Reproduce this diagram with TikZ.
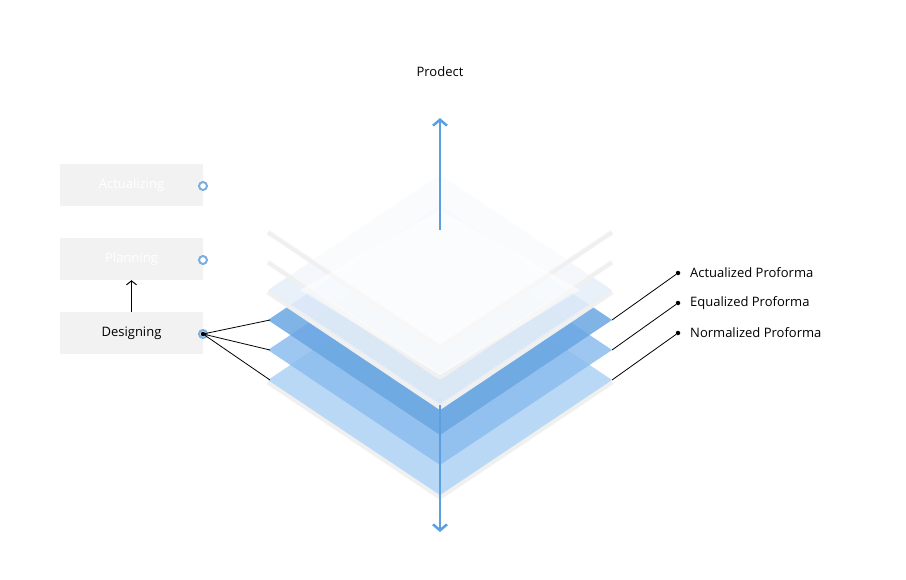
\documentclass[tikz,border=0pt]{standalone}
\usepackage{fontspec}
\setmainfont{Open Sans}
\usetikzlibrary{arrows.meta}
\definecolor{bl}{HTML}{5B9FE0}
\definecolor{c1}{HTML}{B8D8F5}
\definecolor{c2}{HTML}{8CBDEE}
\definecolor{c3}{HTML}{6AA6E2}
\definecolor{c4}{HTML}{E6EFF9}
\definecolor{ring}{HTML}{7BAEDD}
\begin{document}
\begin{tikzpicture}[x=1pt,y=-1pt,font=\fontsize{13}{15}\selectfont,
 box/.style={fill=black!5,minimum width=143pt,minimum height=42pt,inner sep=0pt},
 ring/.style={circle,draw=ring,line width=2pt,fill=white,minimum size=8pt,inner sep=0pt},
 dot/.style={circle,fill=black,minimum size=4.5pt,inner sep=0pt},
 lab/.style={anchor=west,inner sep=0pt}]
\useasboundingbox (0,0) rectangle (906,579);
\newcommand\lay[2]{\fill[#2] (268,#1) -- (440,#1-115) -- (612,#1) -- (440,#1+115) -- cycle;}
\newcommand\shad[1]{\draw[black!6,line width=5pt,line join=round] (268,#1) -- (440,#1+115) -- (612,#1);}
\shad{382}
\lay{380}{c1}
\lay{350}{c2,opacity=.85}
\lay{320}{c3,opacity=.85}
\shad{292}
\lay{290}{c4,opacity=.9}
\shad{262}
\lay{260}{white,opacity=.55}
\shad{232}
\lay{230}{white,opacity=.55}
\fill[white,opacity=.5] (300,290) -- (440,210) -- (580,290) -- (440,375) -- cycle;
\coordinate (t1) at (440,118); \coordinate (t0) at (440,230);
\coordinate (b0) at (440,405); \coordinate (b1) at (440,532);
\draw[bl,line width=2.5pt,-{Straight Barb[length=6pt,width=14pt]}] (t0) -- (t1);
\draw[bl,line width=2.5pt,-{Straight Barb[length=6pt,width=14pt]}] (b0) -- (b1);
\node (p) at (440,72) {Prodect};
\node[box,text=white] (a) at (131.5,185) {Actualizing};
\node[box,text=white] (pl) at (131.5,259) {Planning};
\node[box] (d) at (131.5,333) {Designing};
\node[ring] (ra) at (203,186) {};
\node[ring] (rp) at (203,260) {};
\node[ring] (rd) at (203,334) {};
\node[dot] at (rd) {};
\draw[-{Straight Barb[length=4pt,width=10pt]},line width=1pt] (d.north) -- (pl.south);
\coordinate (l1) at (270,320); \coordinate (l2) at (270,350); \coordinate (l3) at (270,380);
\foreach \c in {l1,l2,l3} \draw[line width=.8pt] (rd.center) -- (\c);
\node[dot] (d1) at (678,273) {}; \node[dot] (d2) at (678,303) {}; \node[dot] (d3) at (678,333) {};
\coordinate (r1) at (612,320); \coordinate (r2) at (612,350); \coordinate (r3) at (612,380);
\draw[line width=.8pt] (r1) -- (d1); \draw[line width=.8pt] (r2) -- (d2); \draw[line width=.8pt] (r3) -- (d3);
\node[lab] at (690,273) {Actualized Proforma};
\node[lab] at (690,303) {Equalized Proforma};
\node[lab] at (690,333) {Normalized Proforma};
\end{tikzpicture}
\end{document}
